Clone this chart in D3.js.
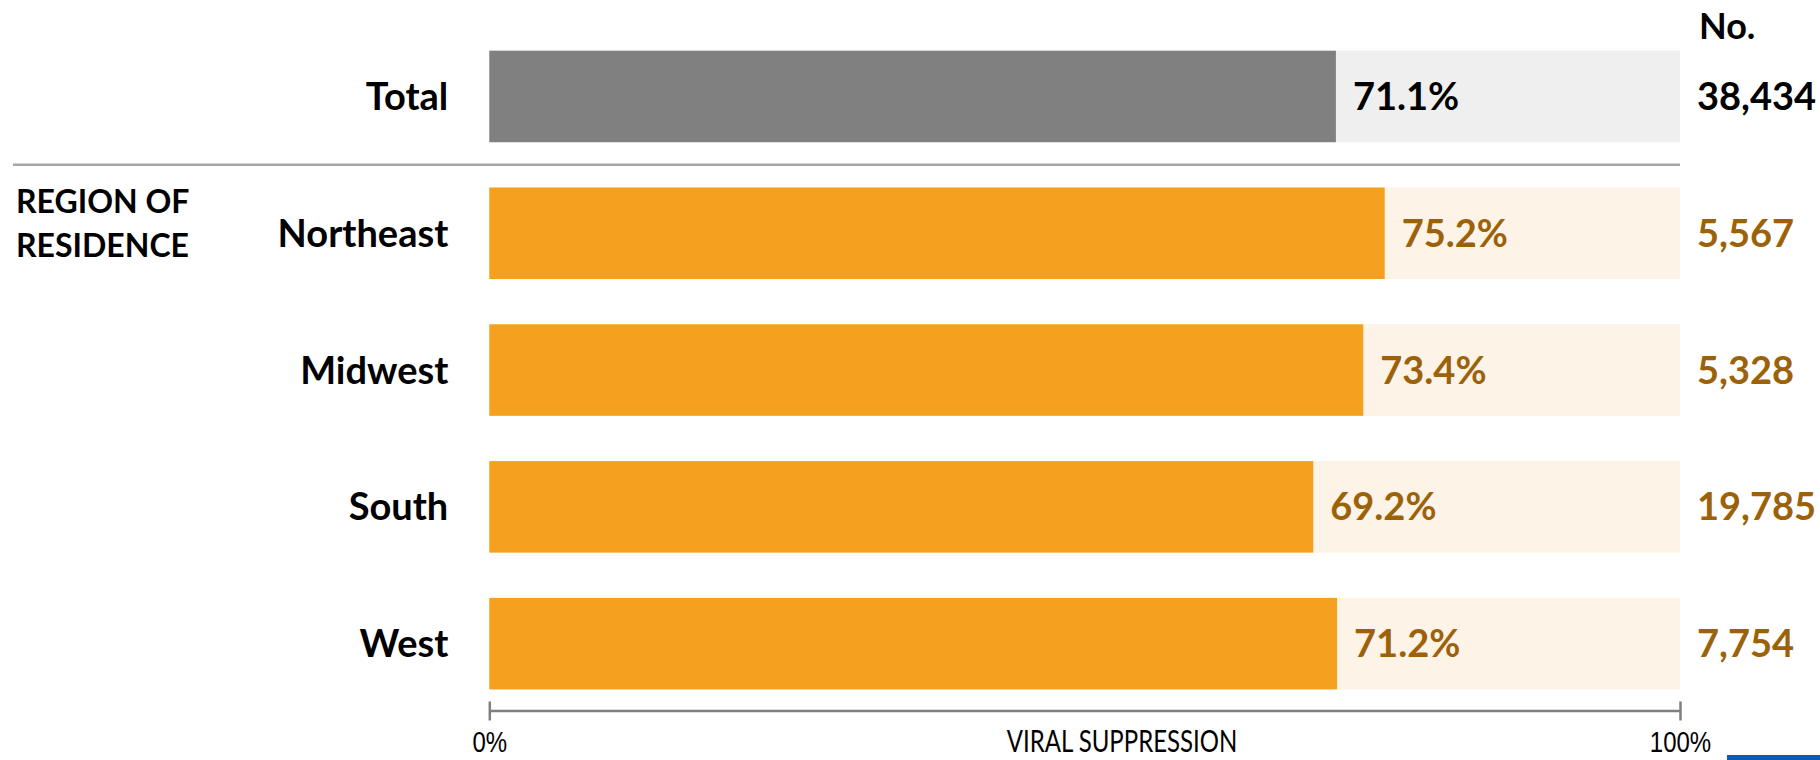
<!DOCTYPE html>
<html lang="en">
<head>
    <meta charset="utf-8">
    <title>Viral Suppression by Region of Residence</title>
    <script src="https://d3js.org/d3.v7.min.js"></script>
    <style>
        body {
            margin: 0;
            background: #fff;
            font-family: Lato, "Open Sans", sans-serif;
        }
        .label { font-weight: bold; font-size: 38px; }
        .axis-text { font-size: 30px; fill: #000; }
    </style>
</head>
<body>
    <svg id="chart" width="1820" height="760"></svg>

    <script>
        // data
        const categories = ["Total", "Northeast", "Midwest", "South", "West"];
        const suppression = [71.1, 75.2, 73.4, 69.2, 71.2];   // % virally suppressed
        const counts = [38434, 5567, 5328, 19785, 7754];
        const axisTicks = [0, 100];
        const groupLabel = ["REGION OF", "RESIDENCE"];

        const rows = categories.map((c, i) => ({ name: c, value: suppression[i], count: counts[i], total: i === 0 }));

        const svg = d3.select("#chart");

        const x = d3.scaleLinear().domain([0, 100]).range([489.3, 1680]);
        const y = d3.scaleBand()
            .domain(categories)
            .range([50.7, 689.4])
            .paddingInner(0.331)
            .paddingOuter(0);

        const fmtCount = d3.format(",");
        const brown = "#9c6209";

        // background track (0-100%)
        svg.append("g").selectAll("rect")
            .data(rows)
            .join("rect")
            .attr("x", x(0))
            .attr("y", d => y(d.name))
            .attr("width", x(100) - x(0))
            .attr("height", y.bandwidth())
            .attr("fill", d => d.total ? "#efefef" : "#fdf3e7");

        // value bars
        svg.append("g").selectAll("rect")
            .data(rows)
            .join("rect")
            .attr("x", x(0))
            .attr("y", d => y(d.name))
            .attr("width", d => x(d.value) - x(0))
            .attr("height", y.bandwidth())
            .attr("fill", d => d.total ? "#808080" : "#f5a01f");

        const mid = d => y(d.name) + y.bandwidth() / 2 + 13.5;

        // row names
        svg.append("g").selectAll("text")
            .data(rows)
            .join("text")
            .attr("class", "label")
            .attr("x", x(0) - 41)
            .attr("y", mid)
            .attr("text-anchor", "end")
            .attr("fill", "#000")
            .text(d => d.name);

        // percent labels
        svg.append("g").selectAll("text")
            .data(rows)
            .join("text")
            .attr("class", "label")
            .attr("x", d => x(d.value) + 17)
            .attr("y", mid)
            .attr("fill", d => d.total ? "#000" : brown)
            .text(d => d.value.toFixed(1) + "%");

        // counts
        svg.append("g").selectAll("text")
            .data(rows)
            .join("text")
            .attr("class", "label")
            .attr("x", x(100) + 17)
            .attr("y", mid)
            .attr("fill", d => d.total ? "#000" : brown)
            .text(d => fmtCount(d.count));

        svg.append("text")
            .attr("class", "label")
            .attr("x", x(100) + 19)
            .attr("y", 39)
            .style("font-size", "36px")
            .text("No.");

        // separator between total and regions
        const sepY = (y(categories[0]) + y.bandwidth() + y(categories[1])) / 2;
        svg.append("line")
            .attr("x1", 13).attr("x2", x(100))
            .attr("y1", sepY).attr("y2", sepY)
            .attr("stroke", "#a6a6a6")
            .attr("stroke-width", 2.5);

        // group label
        svg.append("text")
            .attr("x", 16)
            .attr("y", 213)
            .style("font-weight", "bold")
            .style("font-size", "32px")
            .selectAll("tspan")
            .data(groupLabel)
            .join("tspan")
            .attr("x", 16)
            .attr("dy", (d, i) => i === 0 ? 0 : 44)
            .text(d => d);

        // axis
        const axisY = 711;
        const axis = svg.append("g")
            .attr("transform", `translate(0,${axisY})`)
            .call(d3.axisBottom(x).tickValues(axisTicks).tickSizeOuter(0).tickFormat(d => d + "%"));

        axis.select(".domain").remove();
        axis.append("line")
            .attr("x1", x(0)).attr("x2", x(100))
            .attr("stroke", "#7f7f7f").attr("stroke-width", 2.5);
        axis.selectAll(".tick line")
            .attr("y1", -9.5).attr("y2", 9.5)
            .attr("stroke", "#7f7f7f").attr("stroke-width", 2.5);
        axis.selectAll(".tick text")
            .attr("class", "axis-text")
            .attr("y", 0).attr("dy", 0)
            .attr("font-family", null)
            .attr("transform", "translate(0,41) scale(0.8,1)");

        svg.append("text")
            .attr("class", "axis-text")
            .attr("text-anchor", "middle")
            .attr("transform", `translate(1122,${axisY + 41}) scale(0.8,1)`)
            .text("VIRAL SUPPRESSION");

        // clipped logo fragment in the corner
        svg.append("rect")
            .attr("x", 1727).attr("y", 755)
            .attr("width", 93).attr("height", 6)
            .attr("fill", "#0a5bb8");
    </script>
</body>
</html>
